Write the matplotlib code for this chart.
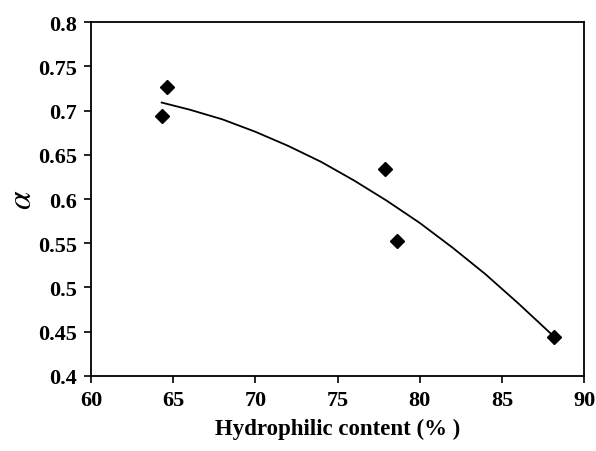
import matplotlib
matplotlib.use("Agg")
import matplotlib.pyplot as plt

# measured points
hydro = [64.3, 64.6, 77.9, 78.6, 88.2]
alpha = [0.694, 0.727, 0.634, 0.552, 0.444]

# trend curve
curve_x = [64.3, 66, 68, 70, 72, 74, 76, 78, 80, 82, 84, 86, 88.2]
curve_y = [0.709, 0.701, 0.690, 0.676, 0.660, 0.642, 0.621, 0.598, 0.573, 0.545, 0.515, 0.482, 0.444]

xticks = [60, 65, 70, 75, 80, 85, 90]
yticks = [0.4, 0.45, 0.5, 0.55, 0.6, 0.65, 0.7, 0.75, 0.8]
ytick_labels = ['0.4', '0.45', '0.5', '0.55', '0.6', '0.65', '0.7', '0.75', '0.8']

plt.rcParams['font.family'] = ['Liberation Serif', 'DejaVu Serif']
plt.rcParams['mathtext.fontset'] = 'stix'

fig = plt.figure(figsize=(5.96, 4.52), dpi=100)
ax = fig.add_axes([0.1527, 0.166, 0.8273, 0.783])

ax.plot(curve_x, curve_y, color='black', lw=1.3)
ax.plot(hydro, alpha, 'D', color='black', ms=7.5, ls='none')

ax.set_xlim(60, 90)
ax.set_ylim(0.4, 0.8)
ax.set_xticks(xticks)
ax.set_yticks(yticks)
ax.set_yticklabels(ytick_labels)
ax.tick_params(direction='out', length=5, width=1.2, labelsize=16, pad=5)
for lab in ax.get_xticklabels() + ax.get_yticklabels():
    lab.set_fontweight('bold')
for s in ax.spines.values():
    s.set_linewidth(1.3)

ax.set_xlabel('Hydrophilic content (% )', fontsize=16.5, fontweight='bold', labelpad=6)
ax.set_ylabel(r'$\alpha$', fontsize=24)
ax.yaxis.set_label_coords(-0.108, 0.5)

fig.savefig('out.png', dpi=100)
